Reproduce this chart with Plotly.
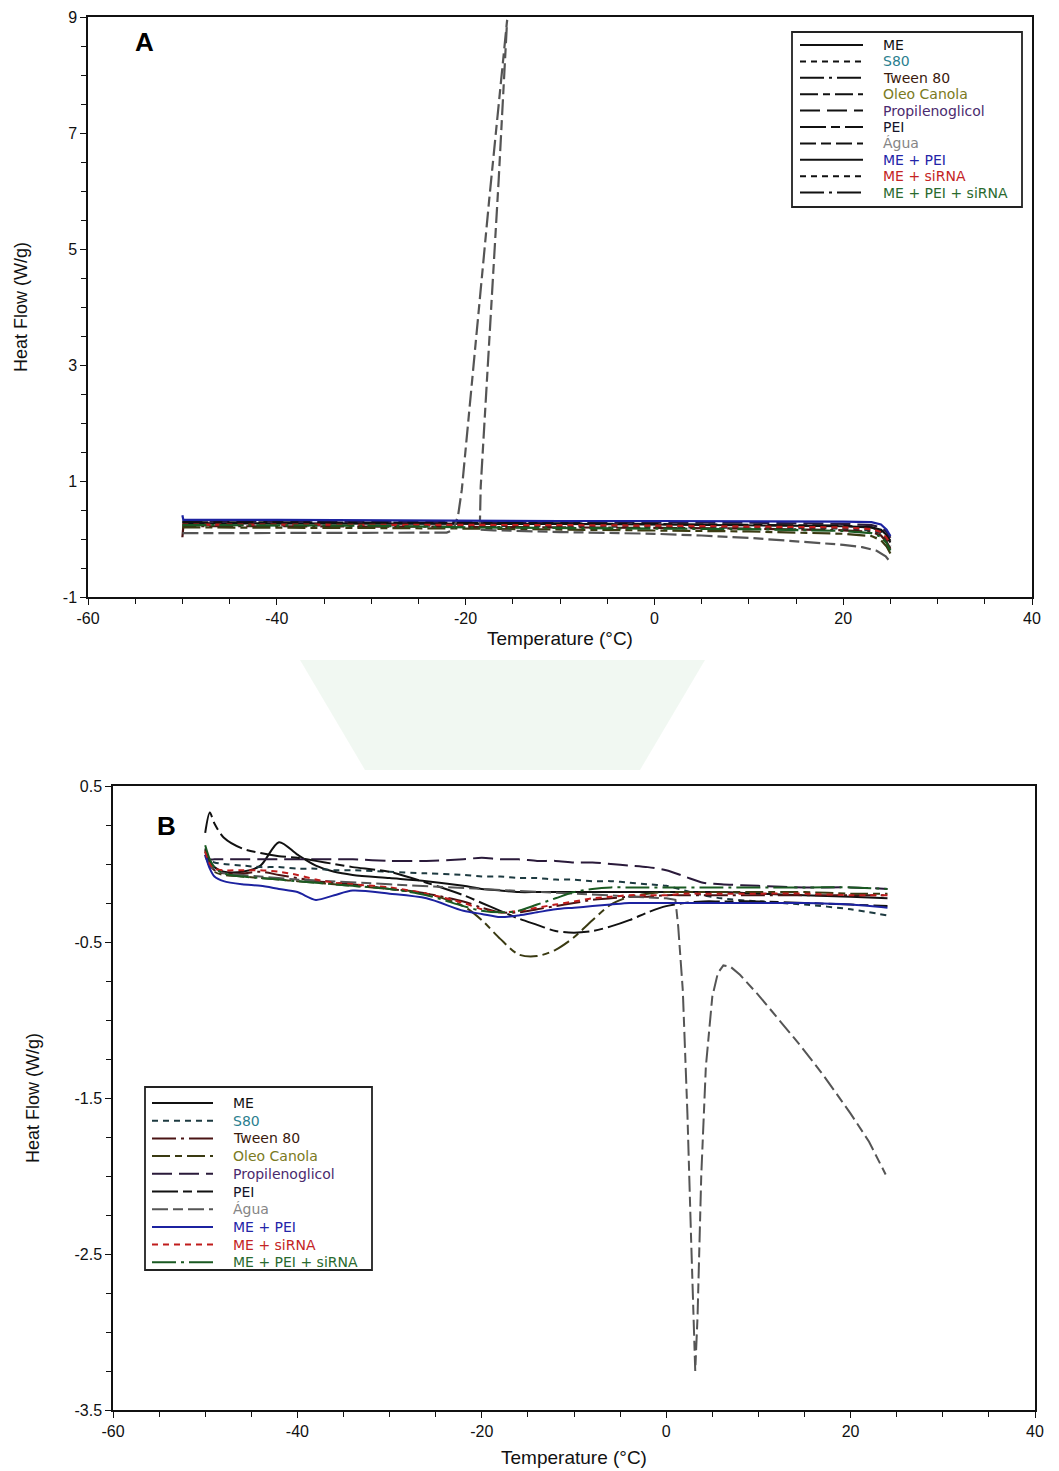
import plotly.graph_objects as go

# ---------- panel A (heating scan) ----------
temp_a = [-50, -49.9, -40, -30, -20, -10, 0, 10, 20, 23, 24, 24.6, 25]
a_me = [0.27, 0.27, 0.27, 0.27, 0.26, 0.26, 0.25, 0.24, 0.22, 0.20, 0.16, 0.07, -0.03]
a_s80 = [0.24, 0.24, 0.24, 0.23, 0.23, 0.22, 0.21, 0.20, 0.18, 0.15, 0.10, 0.00, -0.13]
a_tween = [0.03, 0.22, 0.22, 0.22, 0.21, 0.20, 0.19, 0.18, 0.15, 0.12, 0.06, -0.05, -0.17]
a_oleo = [0.20, 0.20, 0.20, 0.19, 0.18, 0.16, 0.15, 0.13, 0.09, 0.05, -0.02, -0.13, -0.25]
a_propil = [0.30, 0.30, 0.30, 0.30, 0.29, 0.29, 0.28, 0.28, 0.26, 0.24, 0.20, 0.12, 0.02]
a_pei = [0.29, 0.29, 0.28, 0.28, 0.28, 0.27, 0.26, 0.25, 0.23, 0.20, 0.14, 0.04, -0.06]
a_me_pei = [0.41, 0.33, 0.33, 0.32, 0.32, 0.31, 0.31, 0.31, 0.30, 0.29, 0.25, 0.16, 0.05]
a_me_sirna = [0.25, 0.25, 0.25, 0.25, 0.24, 0.24, 0.23, 0.22, 0.20, 0.17, 0.12, 0.02, -0.09]
a_me_pei_sirna = [0.24, 0.24, 0.24, 0.23, 0.20, 0.19, 0.18, 0.17, 0.14, 0.10, 0.04, -0.07, -0.20]

agua_a_temp = [-50, -40, -30, -22, -21.3, -20.8, -20.4, -19, -17.5, -15.6, -16.5, -17.5,
               -18.4, -18.5, -17, -10, 0, 5, 10, 15, 20, 22, 23.5, 24.5, 24.8]
agua_a_flow = [0.10, 0.10, 0.10, 0.11, 0.16, 0.40, 0.85, 3.26, 5.85, 8.95, 6.18, 3.40,
               0.90, 0.16, 0.15, 0.12, 0.09, 0.06, 0.02, -0.04, -0.10, -0.14, -0.20, -0.30, -0.36]

# ---------- panel B (cooling scan) ----------
temp_b = [-50, -49.5, -49, -48, -46, -44, -42, -40, -38, -36, -34, -30, -26, -22, -20, -18,
          -16, -14, -12, -10, -8, -6, -4, -2, 0, 2, 4, 6, 10, 15, 20, 24]
b_me = [0.10, 0.02, -0.02, -0.05, -0.05, -0.01, 0.14, 0.06, -0.01, -0.05, -0.07, -0.09, -0.11,
        -0.14, -0.16, -0.17, -0.18, -0.18, -0.18, -0.18, -0.18, -0.18, -0.18, -0.18, -0.18,
        -0.18, -0.18, -0.18, -0.19, -0.20, -0.21, -0.22]
b_s80 = [0.06, 0.02, 0.01, 0.00, -0.01, -0.02, -0.02, -0.03, -0.03, -0.04, -0.04, -0.05, -0.06,
         -0.07, -0.08, -0.08, -0.09, -0.09, -0.10, -0.10, -0.11, -0.11, -0.12, -0.13, -0.14,
         -0.17, -0.20, -0.22, -0.24, -0.26, -0.29, -0.33]
b_tween = [0.09, 0.00, -0.04, -0.06, -0.06, -0.05, -0.07, -0.09, -0.11, -0.12, -0.13, -0.16,
           -0.19, -0.24, -0.28, -0.31, -0.31, -0.29, -0.27, -0.25, -0.23, -0.22, -0.21, -0.21,
           -0.20, -0.20, -0.20, -0.20, -0.20, -0.20, -0.20, -0.20]
b_oleo = [0.08, -0.01, -0.05, -0.07, -0.08, -0.09, -0.10, -0.11, -0.12, -0.13, -0.14, -0.16,
          -0.19, -0.27, -0.36, -0.48, -0.58, -0.59, -0.55, -0.47, -0.36, -0.26, -0.21, -0.19,
          -0.18, -0.18, -0.18, -0.18, -0.18, -0.18, -0.19, -0.19]
b_propil = [0.06, 0.03, 0.03, 0.03, 0.03, 0.03, 0.03, 0.03, 0.03, 0.03, 0.03, 0.02, 0.02, 0.03,
            0.04, 0.03, 0.03, 0.02, 0.02, 0.01, 0.01, 0.00, -0.01, -0.02, -0.04, -0.08, -0.12,
            -0.13, -0.14, -0.15, -0.15, -0.16]
b_pei = [0.20, 0.33, 0.26, 0.17, 0.10, 0.07, 0.05, 0.04, 0.02, 0.00, -0.02, -0.05, -0.12,
         -0.20, -0.25, -0.30, -0.35, -0.39, -0.43, -0.44, -0.43, -0.40, -0.36, -0.31, -0.27,
         -0.25, -0.24, -0.24, -0.24, -0.25, -0.26, -0.27]
b_me_pei = [0.06, -0.03, -0.08, -0.11, -0.13, -0.14, -0.16, -0.18, -0.23, -0.20, -0.17, -0.19,
            -0.22, -0.30, -0.32, -0.34, -0.33, -0.31, -0.29, -0.28, -0.27, -0.26, -0.25, -0.25,
            -0.25, -0.25, -0.25, -0.25, -0.25, -0.25, -0.26, -0.28]
b_me_sirna = [0.08, 0.00, -0.03, -0.04, -0.04, -0.04, -0.05, -0.07, -0.10, -0.12, -0.13, -0.15,
              -0.19, -0.25, -0.29, -0.31, -0.30, -0.28, -0.26, -0.24, -0.22, -0.21, -0.20, -0.20,
              -0.20, -0.19, -0.19, -0.19, -0.19, -0.19, -0.20, -0.20]
b_me_pei_sirna = [0.12, 0.03, -0.02, -0.06, -0.08, -0.09, -0.10, -0.11, -0.12, -0.13, -0.14,
                  -0.16, -0.20, -0.27, -0.30, -0.31, -0.30, -0.26, -0.22, -0.18, -0.16, -0.15,
                  -0.15, -0.15, -0.15, -0.15, -0.15, -0.15, -0.15, -0.15, -0.15, -0.16]

agua_b_temp = [-50, -49.5, -48, -44, -40, -30, -20, -10, -4, 0, 1.0, 1.3, 1.8, 2.3, 2.7, 3.0,
               3.15, 3.4, 3.8, 4.3, 5.0, 5.6, 6.2, 7, 8, 10, 12, 14.5, 17, 20, 22, 23.8]
agua_b_flow = [0.05, -0.02, -0.06, -0.08, -0.10, -0.13, -0.16, -0.19, -0.21, -0.22, -0.23,
               -0.40, -0.81, -1.60, -2.40, -3.00, -3.25, -2.90, -2.00, -1.30, -0.85, -0.70,
               -0.65, -0.66, -0.71, -0.84, -0.98, -1.16, -1.35, -1.60, -1.78, -1.99]

# tick labels (plain hyphen minus as in the original figure)
x_ticks = [-60, -40, -20, 0, 20, 40]
x_tick_text = ["-60", "-40", "-20", "0", "20", "40"]
ya_ticks = [-1, 1, 3, 5, 7, 9]
ya_tick_text = ["-1", "1", "3", "5", "7", "9"]
yb_ticks = [-3.5, -2.5, -1.5, -0.5, 0.5]
yb_tick_text = ["-3.5", "-2.5", "-1.5", "-0.5", "0.5"]

names = ["ME", "S80", "Tween 80", "Oleo Canola", "Propilenoglicol", "PEI", "Água",
         "ME + PEI", "ME + siRNA", "ME + PEI + siRNA"]
text_colors = ["#111111", "#2b7f8f", "#3a1a0c", "#7a7a22", "#4b2a6e", "#14142a", "#858585",
               "#2424a8", "#c42424", "#2a6a2e"]
line_colors = ["#111111", "#1d3a40", "#4a1414", "#3a3a12", "#2a1a3a", "#111111", "#555555",
               "#1c22a0", "#c01c1c", "#1a5a22"]
dashes = ["solid", "6px,5px", "24px,5px,3px,5px", "18px,5px,7px,5px", "20px,7px",
          "26px,5px,9px,5px", "16px,5px,10px,5px", "solid", "6px,5px", "24px,5px,3px,5px"]

series_a = [a_me, a_s80, a_tween, a_oleo, a_propil, a_pei, None, a_me_pei, a_me_sirna, a_me_pei_sirna]
series_b = [b_me, b_s80, b_tween, b_oleo, b_propil, b_pei, None, b_me_pei, b_me_sirna, b_me_pei_sirna]

# page offset: the browser body adds an 8px margin around the plot div
W, H, OFF = 1051, 1463, 8


def px(x):
    return (x - OFF) / W


def py(y):
    return 1 - (y - OFF) / H


fig = go.Figure()

for i, name in enumerate(names):
    if series_a[i] is None:
        xa, ya = agua_a_temp, agua_a_flow
    else:
        xa, ya = temp_a, series_a[i]
    fig.add_trace(go.Scatter(x=xa, y=ya, mode="lines", name=name, showlegend=False,
                             line=dict(color=line_colors[i], width=2.2, dash=dashes[i]),
                             xaxis="x", yaxis="y"))
for i, name in enumerate(names):
    if series_b[i] is None:
        xb, yb, shape = agua_b_temp, agua_b_flow, "linear"
    else:
        xb, yb, shape = temp_b, series_b[i], "spline"
    fig.add_trace(go.Scatter(x=xb, y=yb, mode="lines", name=name, showlegend=False,
                             line=dict(color=line_colors[i], width=2, dash=dashes[i],
                                       shape=shape, smoothing=0.8),
                             xaxis="x2", yaxis="y2"))

# hand drawn legend boxes (Origin style: long line samples, coloured labels)
shapes = []
annotations = []


def add_legend(box, line_x, text_x, first_y, step, sample_colors):
    shapes.append(dict(type="rect", xref="paper", yref="paper",
                       x0=px(box[0]), x1=px(box[1]), y0=py(box[3]), y1=py(box[2]),
                       line=dict(color="#222", width=1.8), fillcolor="white", layer="above"))
    for i, name in enumerate(names):
        yy = py(first_y + i * step)
        shapes.append(dict(type="line", xref="paper", yref="paper",
                           x0=px(line_x[0]), x1=px(line_x[1]), y0=yy, y1=yy, layer="above",
                           line=dict(color=sample_colors[i], width=2, dash=dashes[i])))
        annotations.append(dict(text=name, xref="paper", yref="paper", x=px(text_x), y=yy,
                                xanchor="left", yanchor="middle", showarrow=False,
                                font=dict(size=14, color=text_colors[i],
                                          family="DejaVu Sans, Arial, sans-serif")))


add_legend((792, 1022, 32, 207), (800, 863), 881, 45, 16.4, ["#111111"] * 10)
add_legend((145, 372, 1087, 1270), (152, 213), 231, 1103, 17.7, line_colors)

annotations += [
    dict(text="<b>A</b>", x=px(133), y=py(25), xref="paper", yref="paper",
         showarrow=False, font=dict(size=26, color="#000")),
    dict(text="<b>B</b>", x=px(155), y=py(826), xref="paper", yref="paper",
         showarrow=False, font=dict(size=26, color="#000")),
]

# faint watermark between the panels
shapes.append(dict(type="path", xref="paper", yref="paper", layer="below",
                   path="M %f,%f L %f,%f L %f,%f L %f,%f Z" % (px(300), py(660), px(705), py(660),
                                                               px(640), py(770), px(365), py(770)),
                   fillcolor="rgba(215,235,219,0.35)", line=dict(width=0)))

xfont = dict(family="Liberation Sans Narrow, Liberation Sans, Arial, sans-serif", size=16, color="#111")
yfont = dict(family="Liberation Sans, Arial, sans-serif", size=16, color="#111")
common = dict(showline=True, linecolor="#111", linewidth=1.5, mirror=True, showgrid=False,
              zeroline=False, ticks="outside", ticklen=6, tickwidth=1.2, tickcolor="#111",
              automargin=False)

fig.update_layout(
    template="none",
    width=W, height=H,
    margin=dict(l=0, r=0, t=0, b=0, autoexpand=False),
    paper_bgcolor="white", plot_bgcolor="white",
    font=dict(family="Liberation Sans, Arial, sans-serif", color="#111"),
    showlegend=False,
    xaxis=dict(domain=[px(88), px(1032)], range=[-60, 40], anchor="y",
               tickvals=x_ticks, ticktext=x_tick_text, tickfont=xfont,
               minor=dict(dtick=5, tick0=-60, ticks="outside", ticklen=5, tickcolor="#111"),
               title=dict(text="Temperature (°C)", font=dict(size=19), standoff=6), **common),
    yaxis=dict(domain=[py(597), py(17)], range=[-1, 9], anchor="x",
               tickvals=ya_ticks, ticktext=ya_tick_text, tickfont=yfont,
               minor=dict(dtick=0.5, tick0=-1, ticks="outside", ticklen=5, tickcolor="#111"),
               title=dict(text="Heat Flow (W/g)", font=dict(size=18), standoff=31), **common),
    xaxis2=dict(domain=[px(113), px(1035)], range=[-60, 40], anchor="y2",
                tickvals=x_ticks, ticktext=x_tick_text, tickfont=xfont,
                minor=dict(dtick=5, tick0=-60, ticks="outside", ticklen=5, tickcolor="#111"),
                title=dict(text="Temperature (°C)", font=dict(size=19), standoff=12), **common),
    yaxis2=dict(domain=[py(1410), py(786)], range=[-3.5, 0.5], anchor="x2",
                tickvals=yb_ticks, ticktext=yb_tick_text, tickfont=yfont,
                minor=dict(dtick=0.25, tick0=-3.5, ticks="outside", ticklen=5, tickcolor="#111"),
                title=dict(text="Heat Flow (W/g)", font=dict(size=18), standoff=30), **common),
    shapes=shapes,
    annotations=annotations,
)

fig.write_html("out.html")
